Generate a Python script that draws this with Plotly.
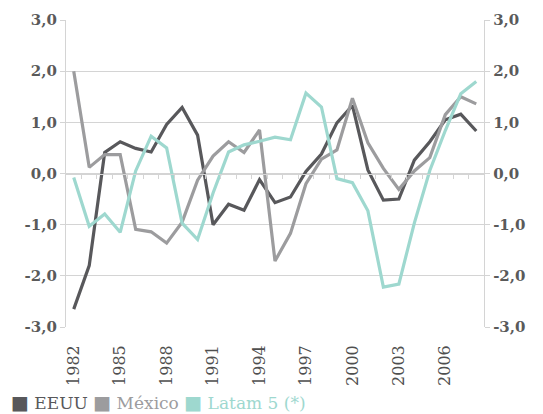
import plotly.graph_objects as go

years = list(range(1982, 2009))
eeuu = [-2.65, -1.80, 0.41, 0.62, 0.49, 0.42, 0.96, 1.29, 0.75, -1.00, -0.60, -0.72, -0.12,
        -0.57, -0.46, 0.04, 0.38, 0.99, 1.33, 0.07, -0.52, -0.50, 0.26, 0.62, 1.05, 1.16, 0.83]
mexico = [2.00, 0.12, 0.37, 0.37, -1.09, -1.14, -1.36, -0.95, -0.13, 0.34, 0.62, 0.41, 0.85,
          -1.71, -1.17, -0.20, 0.28, 0.46, 1.47, 0.60, 0.10, -0.31, 0.05, 0.31, 1.15, 1.50, 1.36]
latam5 = [-0.08, -1.03, -0.79, -1.15, 0.05, 0.73, 0.50, -0.97, -1.29, -0.38, 0.42, 0.56, 0.63,
          0.71, 0.66, 1.57, 1.30, -0.10, -0.18, -0.73, -2.22, -2.16, -0.97, 0.06, 0.84, 1.56, 1.80]

names = ["EEUU", "México", "Latam 5 (*)"]
colors = ["#58585b", "#9c9c9e", "#9ed8cf"]
x_tick_years = [1982, 1985, 1988, 1991, 1994, 1997, 2000, 2003, 2006]
y_ticks = [-3, -2, -1, 0, 1, 2, 3]
y_labels = ["-3,0", "-2,0", "-1,0", "0,0", "1,0", "2,0", "3,0"]

fig = go.Figure()
# invisible helpers so the secondary axes are drawn
fig.add_trace(go.Scatter(x=[years[0]], y=[0], xaxis="x2", yaxis="y", mode="none",
                         showlegend=False, hoverinfo="skip"))
fig.add_trace(go.Scatter(x=[years[0]], y=[0], xaxis="x", yaxis="y2", mode="none",
                         showlegend=False, hoverinfo="skip"))
for name, vals, col in zip(names, [eeuu, mexico, latam5], colors):
    fig.add_trace(go.Scatter(x=years, y=vals, name=name, mode="lines",
                             line=dict(color=col, width=3.2), showlegend=False))

xr = [years[0] - 0.5, years[-1] + 0.5]
grid = "#d4d4d4"
tickfont = dict(family="DejaVu Serif", size=15, color="#5a5a5a", weight="bold")

fig.update_layout(
    width=543, height=414,
    margin=dict(l=66, r=59, t=20, b=87, autoexpand=False),
    paper_bgcolor="white", plot_bgcolor="white",
    xaxis=dict(range=xr, tickmode="array", tickvals=x_tick_years,
               ticktext=[str(v) for v in x_tick_years], tickangle=-90,
               showgrid=False, zeroline=False, showline=False, ticks="",
               ticklabelstandoff=14, automargin=False,
               tickfont=dict(family="DejaVu Serif", size=16, color="#4f4f4f")),
    xaxis2=dict(range=xr, overlaying="x", anchor="free", position=0.5,
                tickmode="array", tickvals=[y + 0.5 for y in years[:-1]],
                showticklabels=False, ticks="outside", ticklen=4, tickwidth=1.3, tickcolor=grid,
                showline=True, linecolor=grid, linewidth=1.3, showgrid=False, zeroline=False),
    yaxis=dict(range=[-3, 3], tickmode="array", tickvals=y_ticks, ticktext=y_labels,
               showgrid=True, gridcolor=grid, gridwidth=1.3, zeroline=False,
               showline=True, linecolor=grid, linewidth=1.3, automargin=False,
               ticks="outside", ticklen=5, tickwidth=1.3, tickcolor=grid, tickfont=tickfont),
    yaxis2=dict(range=[-3, 3], overlaying="y", side="right", anchor="x", tickmode="array",
                tickvals=y_ticks, ticktext=y_labels, showgrid=False, zeroline=False,
                showline=True, linecolor=grid, linewidth=1.3, automargin=False,
                ticks="outside", ticklen=5, tickwidth=1.3, tickcolor=grid, tickfont=tickfont),
)

legend_text = " ".join(
    f'<span style="color:{c}"><span style="font-size:19px">■</span> {n}</span>'
    for n, c in zip(names, colors))
fig.add_annotation(text=legend_text, xref="paper", yref="paper",
                   x=(9 - 66) / 418, y=(327 - 402) / 307, xanchor="left", yanchor="middle",
                   showarrow=False, font=dict(family="DejaVu Serif", size=17))

fig.write_html("out.html", config={"displayModeBar": False},
               post_script="document.body.style.margin='0px';document.body.style.overflow='hidden';")
